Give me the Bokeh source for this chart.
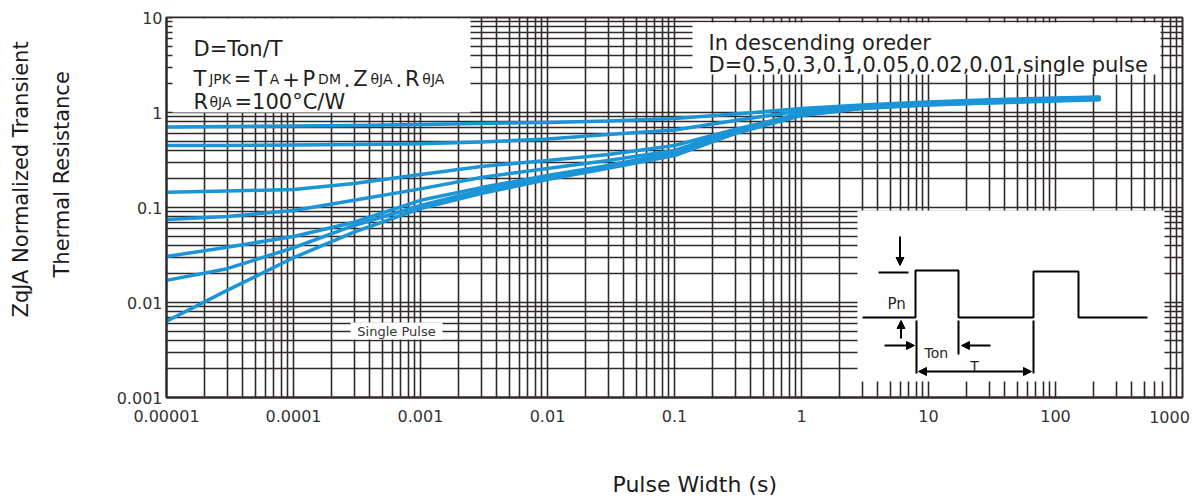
import math
from bokeh.plotting import figure
from bokeh.models import (FixedTicker, Label, Arrow, NormalHead, CustomJSTickFormatter, Range1d,
                          Title, LogAxis)
from bokeh.embed import file_html
from bokeh.resources import INLINE

# ---------------- data ----------------
pulse_width = [1e-5, 3e-5, 1e-4, 3e-4, 1e-3, 3e-3, 0.01, 0.03, 0.1, 0.3, 1, 3, 10, 30, 100, 220]
z_d05 = [0.704, 0.713, 0.722, 0.730, 0.748, 0.766, 0.785, 0.814, 0.865, 0.964, 1.10, 1.20, 1.29, 1.36, 1.42, 1.46]
z_d03 = [0.450, 0.450, 0.455, 0.461, 0.469, 0.489, 0.526, 0.586, 0.654, 0.824, 1.04, 1.17, 1.27, 1.34, 1.40, 1.44]
z_d01 = [0.145, 0.149, 0.155, 0.179, 0.222, 0.270, 0.313, 0.362, 0.450, 0.662, 0.976, 1.16, 1.26, 1.32, 1.39, 1.42]
z_d005 = [0.0748, 0.0804, 0.0930, 0.119, 0.157, 0.207, 0.258, 0.313, 0.398, 0.647, 0.964, 1.14, 1.24, 1.31, 1.37, 1.40]
z_d002 = [0.0305, 0.0382, 0.0495, 0.0700, 0.119, 0.162, 0.217, 0.277, 0.379, 0.631, 0.953, 1.13, 1.23, 1.29, 1.35, 1.39]
z_d001 = [0.0171, 0.0227, 0.0377, 0.0647, 0.105, 0.151, 0.207, 0.264, 0.362, 0.617, 0.942, 1.11, 1.21, 1.27, 1.34, 1.37]
z_single = [0.00635, 0.0134, 0.0296, 0.0550, 0.0976, 0.140, 0.197, 0.258, 0.352, 0.601, 0.930, 1.10, 1.20, 1.26, 1.32, 1.36]

x_ticks = [1e-5, 1e-4, 1e-3, 1e-2, 1e-1, 1, 10, 100, 1000]
x_tick_labels = ["0.00001", "0.0001", "0.001", "0.01", "0.1", "1", "10", "100", "1000"]
y_ticks = [0.001, 0.01, 0.1, 1, 10]
y_tick_labels = ["0.001", "0.01", "0.1", "1", "10"]

x_title = "Pulse Width (s)"
y_title_1 = "ZqJA Normalized Transient"
y_title_2 = "Thermal Resistance"
note_right_1 = "In descending oreder"
note_right_2 = "D=0.5,0.3,0.1,0.05,0.02,0.01,single pulse"

# ---------------- layout helpers (pixel -> data) ----------------
FL, FT, FW, FH = 166, 17, 1016, 380
W, H = 1198, 501
DX = FW / 8.0
DY = FH / 4.0


def X(px):
    return 10 ** (-5 + (px - FL) / DX)


def Y(py):
    return 10 ** (1 - (py - FT) / DY)


GRID = "#2f2929"
BLUE = "#1b95d7"
TXT = "#231f20"
FONT = "DejaVu Sans"

p = figure(width=W, height=H, x_axis_type="log", y_axis_type="log",
           x_range=Range1d(1e-5, 1000), y_range=Range1d(1e-3, 10),
           output_backend="svg", toolbar_location=None,
           min_border_left=FL, min_border_right=W - FL - FW,
           min_border_top=FT, min_border_bottom=H - FT - FH)

minor_x = [k * 10 ** e for e in range(-5, 3) for k in range(2, 10)]
minor_y = [k * 10 ** e for e in range(-3, 1) for k in range(2, 10)]
xt = FixedTicker(ticks=x_ticks, minor_ticks=minor_x)
yt = FixedTicker(ticks=y_ticks, minor_ticks=minor_y)
p.xaxis.ticker = xt
p.yaxis.ticker = yt
p.xgrid.ticker = xt
p.ygrid.ticker = yt

fmt_code = """
let best = 0, bd = Infinity;
for (let i = 0; i < tick_vals.length; i++) {
  const d = Math.abs(Math.log10(tick) - Math.log10(tick_vals[i]));
  if (d < bd) { bd = d; best = i; }
}
if (skip_last && best == tick_vals.length - 1) return '';
return tick_texts[best];
"""
p.xaxis.formatter = CustomJSTickFormatter(args=dict(tick_vals=x_ticks, tick_texts=x_tick_labels, skip_last=True), code=fmt_code)
p.yaxis.formatter = CustomJSTickFormatter(args=dict(tick_vals=y_ticks, tick_texts=y_tick_labels, skip_last=False), code=fmt_code)


def style_axis(ax):
    ax.major_tick_line_color = None
    ax.minor_tick_line_color = None
    ax.major_tick_out = 0
    ax.major_tick_in = 0
    ax.minor_tick_out = 0
    ax.minor_tick_in = 0
    ax.axis_line_color = GRID
    ax.axis_line_width = 2
    ax.major_label_text_font = FONT
    ax.major_label_text_font_size = "16px"
    ax.major_label_text_color = "#333333"


for ax in (p.xaxis[0], p.yaxis[0]):
    style_axis(ax)
p.xaxis.major_label_standoff = 12
p.yaxis.major_label_standoff = 4

# the right-most x label sits a little left of its grid line in the original
shift = 13 / DX
p.extra_x_ranges = {"lastlab": Range1d(1e-5 * 10 ** shift, 1000 * 10 ** shift)}
ax2 = LogAxis(x_range_name="lastlab", ticker=FixedTicker(ticks=[x_ticks[-1]], minor_ticks=[]),
              formatter=CustomJSTickFormatter(args=dict(tick_vals=x_ticks, tick_texts=x_tick_labels, skip_last=False), code=fmt_code))
style_axis(ax2)
ax2.axis_line_color = None
ax2.major_label_standoff = -14
p.add_layout(ax2, "below")

for g in (p.xgrid, p.ygrid):
    g.grid_line_color = GRID
    g.grid_line_width = 1.6
    g.grid_line_alpha = 1.0
    g.minor_grid_line_color = GRID
    g.minor_grid_line_width = 1.6
    g.minor_grid_line_alpha = 1.0

p.outline_line_color = GRID
p.outline_line_width = 2
p.background_fill_color = "white"
p.border_fill_color = "white"


# axis titles (blank titles act as spacers between the axes and the titles)
def spacer(gap, side):
    p.add_layout(Title(text=" ", text_font_size="1px", standoff=gap), side)


def title(text, side, offset, standoff, size, valign):
    p.add_layout(Title(text=text, align="left", offset=offset, standoff=standoff, vertical_align=valign,
                       text_font=FONT, text_font_size=f"{size}px", text_font_style="normal",
                       text_color="#1a1a1a"), side)


spacer(43, "below")
title(x_title, "below", 612 - FL, 0, 22, "top")
spacer(22, "left")
title(y_title_2, "left", 120, 30, 21, "bottom")
title(y_title_1, "left", 80, 0, 21, "bottom")

# white boxes behind the notes
boxes_px = [(172, 470, 18, 112), (692, 1160, 22, 74), (857, 1164, 210, 381), (350, 442, 322, 339)]
p.quad(left=[X(b[0]) for b in boxes_px], right=[X(b[1]) for b in boxes_px],
       top=[Y(b[2]) for b in boxes_px], bottom=[Y(b[3]) for b in boxes_px],
       fill_color="white", line_color=None)

# curves
for ys in (z_d05, z_d03, z_d01, z_d005, z_d002, z_d001, z_single):
    p.line(pulse_width, ys, line_color=BLUE, line_width=3.5, line_join="round", line_cap="round")

# ---------------- inset pulse diagram ----------------
wave_px = [(862, 317), (915, 317), (915, 270), (958, 270), (958, 317), (1033, 317),
           (1033, 271), (1078, 271), (1078, 317), (1147, 317)]
p.line([X(a) for a, b in wave_px], [Y(b) for a, b in wave_px], line_color="black", line_width=2)
segs = [((878, 272), (908, 272)), ((916, 320), (916, 373)), ((958, 320), (958, 354)), ((1033, 320), (1033, 373))]
for (a, b), (c, d) in segs:
    p.line([X(a), X(c)], [Y(b), Y(d)], line_color="black", line_width=2)


def arrow(a, b, c, d, both=False):
    head = dict(size=8, fill_color="black", line_color="black", line_width=1)
    p.add_layout(Arrow(end=NormalHead(**head), start=NormalHead(**head) if both else None,
                       x_start=X(a), y_start=Y(b), x_end=X(c), y_end=Y(d),
                       line_color="black", line_width=2))


arrow(899.5, 236, 899.5, 265)
arrow(900.5, 338, 900.5, 320)
arrow(884, 345, 914, 345)
arrow(990, 345, 961, 345)
arrow(918, 371, 1031, 371, both=True)


def label(px, py, text, size, align="left", baseline="alphabetic", color=TXT, angle=0.0):
    p.add_layout(Label(x=X(px), y=Y(py), text=text, text_font=FONT, text_font_size=f"{size}px",
                       text_align=align, text_baseline=baseline, text_color=color, angle=angle))


label(887, 303, "Pn", 15)
label(924, 352, "Ton", 14)
label(974, 365, "T", 14, align="center")
label(396, 331, "Single Pulse", 13, align="center", baseline="middle", color="#333333")

# ---------------- top-left formula box ----------------
big, small = 21, 14
em = {"T": .611, "J": .295, "P": .603, "K": .656, "=": .838, "A": .684, "+": .838, "D": .770,
      "M": .863, ".": .318, "Z": .685, "θ": .602, "R": .695}
pieces = [("T", big), ("JPK", small), ("=", big), ("T", big), ("A", small), ("+", big), ("P", big),
          ("DM", small), (".", big), ("Z", big), ("θJA", small), (".", big), ("R", big), ("θJA", small)]
widths = [sum(em[ch] for ch in t) * s for t, s in pieces]
gap = (251 - sum(widths)) / (len(pieces) - 1)
xpos = 193
for (t, s), w in zip(pieces, widths):
    label(xpos, 78, t, s)
    xpos += w + gap

label(193, 48, "D=Ton/T", big)
label(193, 101, "R", big)
label(209, 101, "θJA", small)
label(234, 101, "=100°C/W", big)

# ---------------- top-right note ----------------
label(708, 42, note_right_1, 21)
label(708, 64, note_right_2, 21)

open("out.html", "w").write(file_html(p, INLINE))
